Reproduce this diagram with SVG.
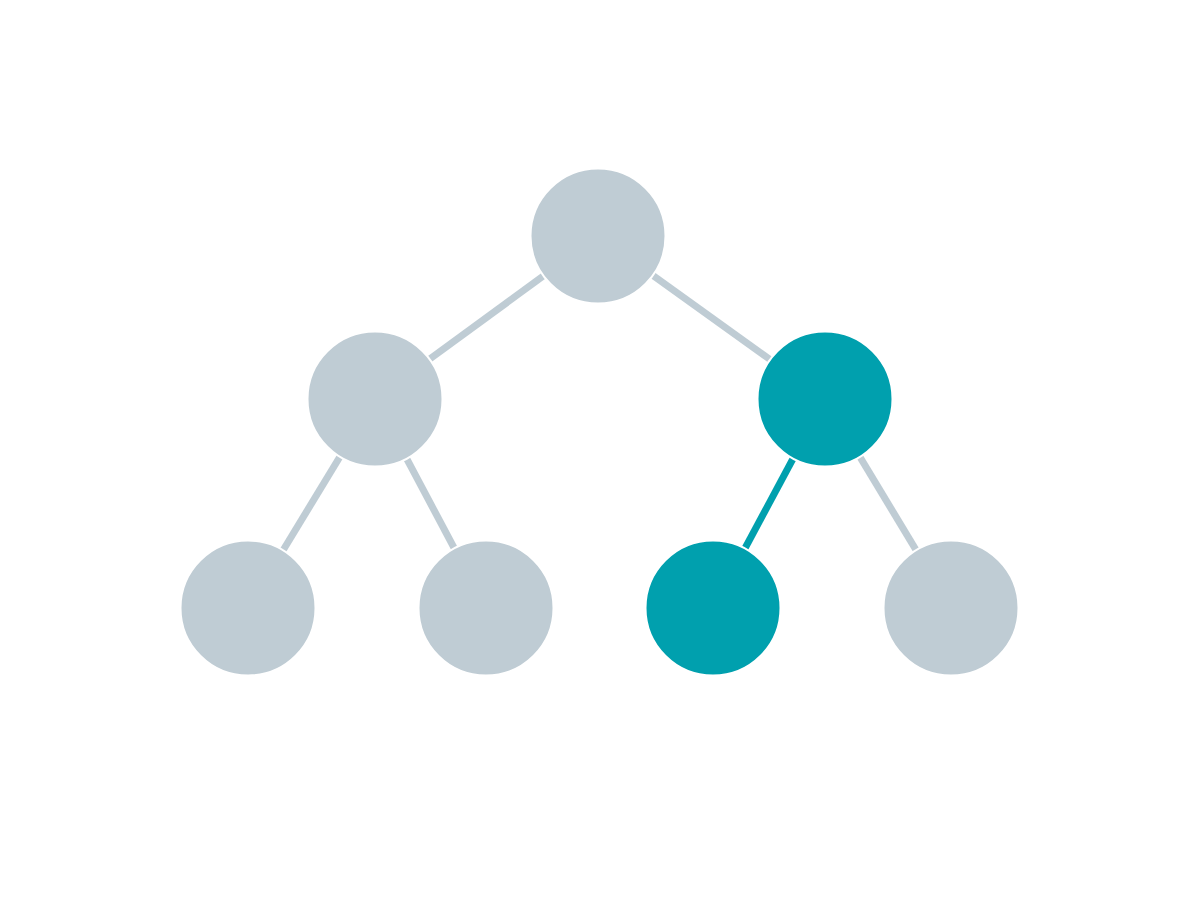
<svg xmlns="http://www.w3.org/2000/svg" width="1200" height="900" viewBox="0 0 1200 900">
<style>
.e{stroke-width:7;fill:none;stroke-linecap:butt}
.g{stroke:#BFCCD4}
.t{stroke:#00A0AE}
.n{stroke:#FFFFFF;stroke-width:2}
.ng{fill:#BFCCD4}
.nt{fill:#00A0AE}
</style>
<rect width="1200" height="900" fill="#FFFFFF"/>
<g id="edges">
<line class="e g" x1="598" y1="236" x2="375" y2="399"/>
<line class="e g" x1="598" y1="236" x2="825" y2="399"/>
<line class="e g" x1="375" y1="399" x2="248" y2="608"/>
<line class="e g" x1="375" y1="399" x2="486" y2="608"/>
<line class="e t" x1="825" y1="399" x2="713" y2="608"/>
<line class="e g" x1="825" y1="399" x2="951" y2="608"/>
</g>
<g id="n-root"><circle class="n ng" cx="598" cy="236" r="67.5"/></g>
<g id="n-l"><circle class="n ng" cx="375" cy="399" r="67.5"/></g>
<g id="n-r"><circle class="n nt" cx="825" cy="399" r="67.5"/></g>
<g id="n-ll"><circle class="n ng" cx="248" cy="608" r="67.5"/></g>
<g id="n-lr"><circle class="n ng" cx="486" cy="608" r="67.5"/></g>
<g id="n-rl"><circle class="n nt" cx="713" cy="608" r="67.5"/></g>
<g id="n-rr"><circle class="n ng" cx="951" cy="608" r="67.5"/></g>
</svg>
